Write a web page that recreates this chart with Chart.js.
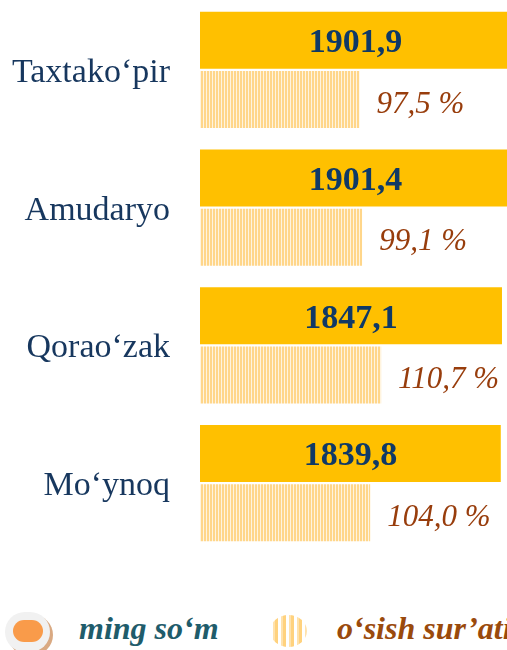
<!DOCTYPE html>
<html>
<head>
<meta charset="utf-8">
<script src="https://cdn.jsdelivr.net/npm/chart.js@4.4.1/dist/chart.umd.min.js"></script>
<style>
  html, body { margin: 0; padding: 0; background: #fff; overflow: hidden; }
  #page { position: relative; width: 507px; height: 650px; overflow: hidden; }
  #box { position: absolute; left: 0; top: 0; width: 620px; height: 560px; }
  .lg-text { position: absolute; top: 612px; font: italic bold 32px/32px "Liberation Serif", serif; white-space: nowrap; }
  #mk1 { position: absolute; left: 5px; top: 612px; width: 45px; height: 40px; background: #f1f1f1;
         border-radius: 20px; box-shadow: 3px 3px 0 #d9a982; }
  #mk1 div { position: absolute; left: 8px; top: 8px; width: 30px; height: 22px; background: #f99b4a; border-radius: 11px; }
  #mk2 { position: absolute; left: 270px; top: 615px; width: 37px; height: 32px; border-radius: 50%;
         background: repeating-linear-gradient(90deg, #fff 0 3px, #ffe2ad 3px 5px, #ffd27e 5px 8px); }
</style>
</head>
<body>
<div id="page">
  <div id="box"><canvas id="chart"></canvas></div>
  <div id="mk1"><div></div></div>
  <span class="lg-text" id="lg1" style="left:79px; color:#1f5c6b;"></span>
  <div id="mk2"></div>
  <span class="lg-text" id="lg2" style="left:337px; color:#9a4a0c;"></span>
</div>
<script>
var districts = ['Taxtako‘pir', 'Amudaryo', 'Qorao‘zak', 'Mo‘ynoq'];
var amounts = [1901.9, 1901.4, 1847.1, 1839.8];
var growth = [97.5, 99.1, 110.7, 104.0];
var seriesNames = ['ming so‘m', 'o‘sish sur’ati'];

function fmt(v) { return v.toFixed(1).replace('.', ','); }

function stripes() {
  var c = document.createElement('canvas');
  c.width = 3; c.height = 4;
  var g = c.getContext('2d');
  g.fillStyle = '#fff4df'; g.fillRect(0, 0, 3, 4);
  g.fillStyle = '#ffd68a'; g.fillRect(0, 0, 2, 4);
  return g.createPattern(c, 'repeat');
}

document.getElementById('lg1').textContent = seriesNames[0];
document.getElementById('lg2').textContent = seriesNames[1];

var barLabels = {
  id: 'barLabels',
  afterDatasetsDraw: function (chart) {
    var ctx = chart.ctx;
    ctx.save();
    ctx.textBaseline = 'middle';
    chart.getDatasetMeta(0).data.forEach(function (bar, i) {
      ctx.font = 'bold 34px "Liberation Serif"';
      ctx.fillStyle = '#0f3966';
      ctx.textAlign = 'center';
      ctx.fillText(fmt(amounts[i]), (bar.base + bar.x) / 2, bar.y + 3);
    });
    chart.getDatasetMeta(1).data.forEach(function (bar, i) {
      ctx.font = 'italic 31px "Liberation Serif"';
      ctx.fillStyle = '#983d0c';
      ctx.textAlign = 'left';
      ctx.fillText(fmt(growth[i]) + ' %', bar.x + 17, bar.y + 5);
    });
    ctx.restore();
  }
};

new Chart(document.getElementById('chart').getContext('2d'), {
  type: 'bar',
  data: {
    labels: districts,
    datasets: [{
      label: seriesNames[0],
      data: amounts,
      xAxisID: 'x',
      backgroundColor: '#ffc000',
      borderWidth: 0
    }, {
      label: seriesNames[1],
      data: growth,
      xAxisID: 'x2',
      backgroundColor: stripes(),
      borderWidth: 0
    }]
  },
  options: {
    indexAxis: 'y',
    responsive: true,
    maintainAspectRatio: false,
    animation: false,
    categoryPercentage: 0.86,
    barPercentage: 0.966,
    layout: { padding: { top: 1, bottom: 8, left: 0, right: 0 } },
    plugins: { legend: { display: false }, tooltip: { enabled: false } },
    scales: {
      x: { display: false, min: 0, max: 2569 },
      x2: { display: false, min: 0, max: 256.7 },
      y: {
        grid: { display: false, drawTicks: false },
        border: { display: false },
        ticks: { color: '#17375e', padding: 30, labelOffset: 3, font: { family: 'Liberation Serif', size: 34 } },
        afterFit: function (axis) {
          axis.width = 200;
          axis.paddingTop = 0;
          axis.paddingBottom = 0;
        }
      }
    }
  },
  plugins: [barLabels]
});
</script>
</body>
</html>
